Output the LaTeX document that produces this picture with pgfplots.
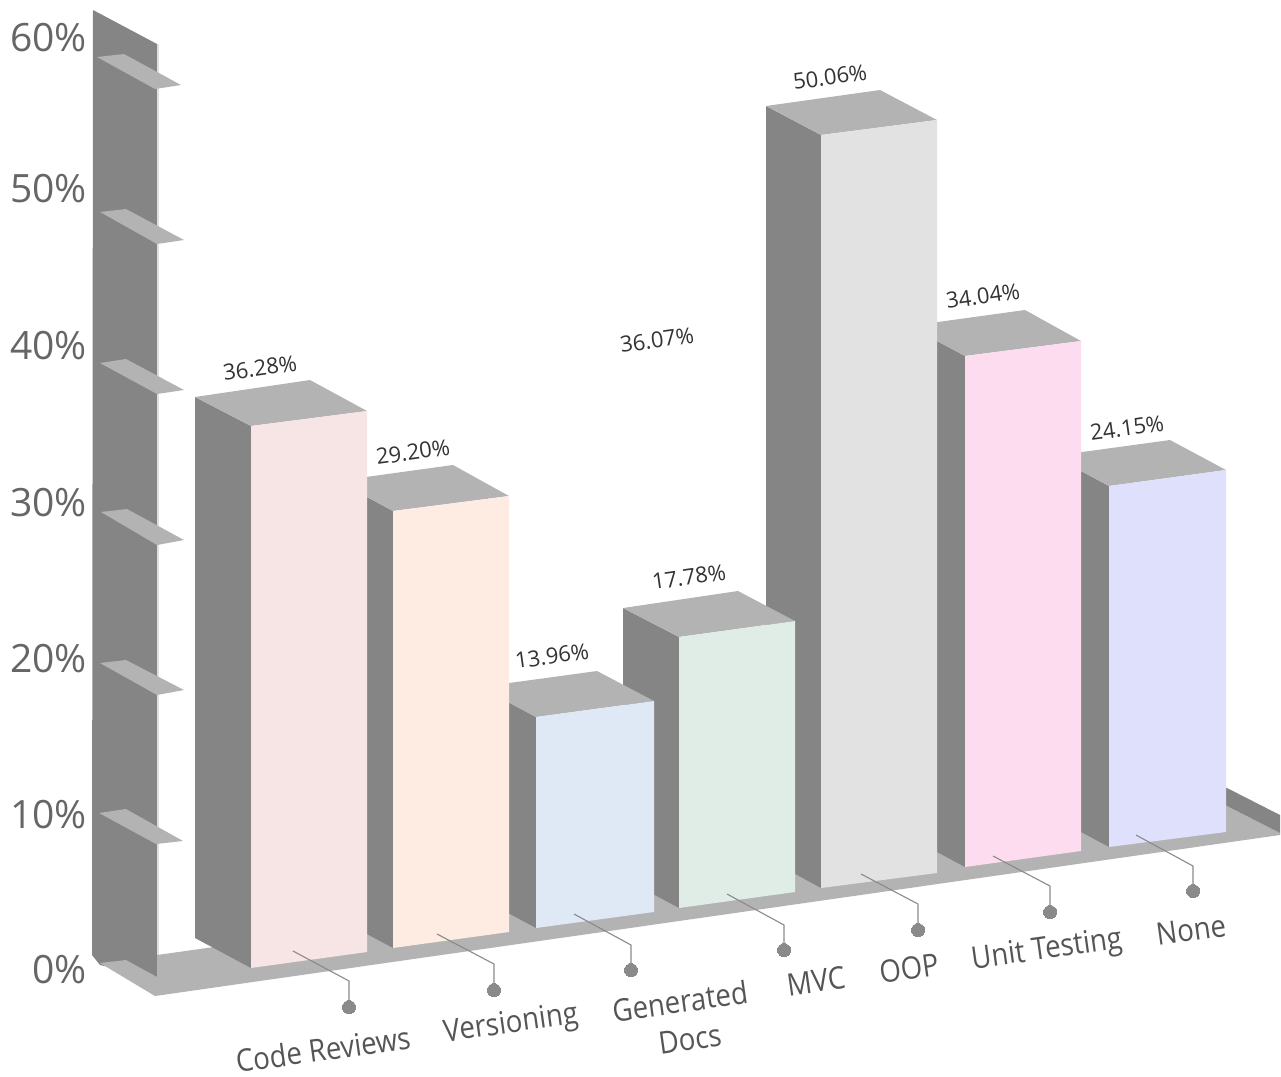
\documentclass[border=0pt]{standalone}
\usepackage{fontspec}
\setmainfont{Open Sans}
\newfontfamily\catfont{Open Sans}[FakeStretch=0.89]
\usepackage{pgfplots}
\pgfplotsset{compat=1.18}
\definecolor{side}{HTML}{858585}
\definecolor{topc}{HTML}{B3B3B3}
\definecolor{lead}{HTML}{8A8A8A}
\definecolor{ticktext}{HTML}{666666}
\definecolor{valtext}{HTML}{333333}
\definecolor{cattext}{HTML}{555555}
\pgfplotsset{
  sidef/.style={fill=side, draw=none, forget plot},
  topf/.style={fill=topc, draw=none, forget plot},
  leader/.style={draw=lead, line width=1.1pt, forget plot},
  dot/.style={only marks, mark=*, mark size=6.5pt, color=lead, mark options={fill=lead, draw=lead, line width=0pt}, forget plot},
}
\tikzset{
  val/.style={font=\fontsize{22}{24}\selectfont, text=valtext, rotate=8, inner sep=0pt},
  cat/.style={font=\catfont\fontsize{31}{34}\selectfont, text=cattext, rotate=8, inner sep=0pt},
  tk/.style={font=\fontsize{39}{42}\selectfont, text=ticktext, anchor=east, inner sep=0pt},
}
\begin{document}
\begin{tikzpicture}
  \begin{axis}[
      scale only axis,
      width=1281pt, height=1076pt,
      xmin=0, xmax=1281, ymin=0, ymax=1076,
      y dir=reverse,
      hide axis,
      clip=false,
    ]
    \path (axis cs:0,0) rectangle (axis cs:1281,1076);

    % y axis wall
    \addplot[sidef] coordinates {(93,10) (157,44) (157,977) (100,965) (92,955)} -- cycle;
    \addplot[draw=gray!25, line width=1.5pt, forget plot] coordinates {(158,44) (158,975)};

    % floor and right end wall
    \addplot[topf] coordinates {(100,963) (126,960) (157,977) (157,955) (1225,805) (1280,833) (1280,835) (155,996)} -- cycle;
    \addplot[sidef] coordinates {(1225,787) (1280,815) (1280,833) (1225,805)} -- cycle;

    % tick shelves
    \addplot[topf] coordinates {(97,57) (124,54) (181,85) (155,89)} -- cycle;
    \addplot[topf] coordinates {(100,212) (126,209) (184,240) (157,244)} -- cycle;
    \addplot[topf] coordinates {(100,363) (126,359) (184,390) (157,394)} -- cycle;
    \addplot[topf] coordinates {(101,512) (127,509) (184,540) (157,545)} -- cycle;
    \addplot[topf] coordinates {(100,663) (126,660) (184,690) (157,695)} -- cycle;
    \addplot[topf] coordinates {(99,813) (126,809) (183,841) (156,844)} -- cycle;

    % bars, right to left so the nearer ones cover the others
    % None
    \addplot[sidef] coordinates {(1053,456) (1109,486) (1109,847) (1053,817)} -- cycle;
    \addplot[topf] coordinates {(1053,456) (1170,440) (1226,470) (1109,486)} -- cycle;
    \addplot[fill={rgb,255:red,222;green,224;blue,252}, draw=none, forget plot] coordinates {(1109,486) (1226,470) (1226,832) (1109,847)} -- cycle;
    % Unit Testing
    \addplot[sidef] coordinates {(909,326) (965,356) (965,867) (909,837)} -- cycle;
    \addplot[topf] coordinates {(909,326) (1025,310) (1081,341) (965,356)} -- cycle;
    \addplot[fill={rgb,255:red,253;green,220;blue,240}, draw=none, forget plot] coordinates {(965,356) (1081,341) (1081,851) (965,867)} -- cycle;
    % OOP
    \addplot[sidef] coordinates {(766,106) (821,135) (821,888) (766,858)} -- cycle;
    \addplot[topf] coordinates {(766,106) (880,90) (937,120) (821,135)} -- cycle;
    \addplot[fill={rgb,255:red,226;green,226;blue,226}, draw=none, forget plot] coordinates {(821,135) (937,120) (937,873) (821,888)} -- cycle;
    % MVC
    \addplot[sidef] coordinates {(623,608) (679,637) (679,908) (623,878)} -- cycle;
    \addplot[topf] coordinates {(623,608) (738,591) (795,621) (679,637)} -- cycle;
    \addplot[fill={rgb,255:red,223;green,237;blue,230}, draw=none, forget plot] coordinates {(679,637) (795,621) (795,892) (679,908)} -- cycle;
    % Generated Docs
    \addplot[sidef] coordinates {(480,687) (536,717) (536,928) (480,898)} -- cycle;
    \addplot[topf] coordinates {(480,687) (597,671) (654,701) (536,717)} -- cycle;
    \addplot[fill={rgb,255:red,223;green,232;blue,245}, draw=none, forget plot] coordinates {(536,717) (654,701) (654,912) (536,928)} -- cycle;
    % Versioning
    \addplot[sidef] coordinates {(337,481) (393,511) (393,948) (337,918)} -- cycle;
    \addplot[topf] coordinates {(337,481) (453,465) (509,496) (393,511)} -- cycle;
    \addplot[fill={rgb,255:red,254;green,235;blue,226}, draw=none, forget plot] coordinates {(393,511) (509,496) (509,932) (393,948)} -- cycle;
    % Code Reviews
    \addplot[sidef] coordinates {(195,397) (251,426) (251,968) (195,938)} -- cycle;
    \addplot[topf] coordinates {(195,397) (310,380) (367,411) (251,426)} -- cycle;
    \addplot[fill={rgb,255:red,247;green,228;blue,228}, draw=none, forget plot] coordinates {(251,426) (367,411) (367,952) (251,968)} -- cycle;

    % leaders from the bars to the category dots
    \addplot[leader] coordinates {(293,951) (349,981) (349,1007)};
    \addplot[leader] coordinates {(437,934) (494,964) (494,990)};
    \addplot[leader] coordinates {(574,914) (631,945) (631,970)};
    \addplot[leader] coordinates {(727,894) (784,925) (784,950)};
    \addplot[leader] coordinates {(861,874) (918,904) (918,930)};
    \addplot[leader] coordinates {(993,856) (1050,886) (1050,912)};
    \addplot[leader] coordinates {(1136,835) (1193,866) (1193,891)};
    \addplot[dot] coordinates {(349,1007) (494,990) (631,970) (784,950) (918,930) (1050,912) (1193,891)};

    % tick labels
    \node[tk] at (axis cs:87,38)  {60\%};
    \node[tk] at (axis cs:87,189) {50\%};
    \node[tk] at (axis cs:87,346) {40\%};
    \node[tk] at (axis cs:87,503) {30\%};
    \node[tk] at (axis cs:87,659) {20\%};
    \node[tk] at (axis cs:87,815) {10\%};
    \node[tk] at (axis cs:87,970) {0\%};

    % value labels
    \node[val] at (axis cs:260,368)  {36.28\%};
    \node[val] at (axis cs:413,452)  {29.20\%};
    \node[val] at (axis cs:552,656)  {13.96\%};
    \node[val] at (axis cs:689,577)  {17.78\%};
    \node[val] at (axis cs:657,340)  {36.07\%};
    \node[val] at (axis cs:830,77)   {50.06\%};
    \node[val] at (axis cs:983,296)  {34.04\%};
    \node[val] at (axis cs:1127,428) {24.15\%};

    % category labels
    \node[cat] at (axis cs:323,1049) {Code Reviews};
    \node[cat] at (axis cs:511,1025) {Versioning};
    \node[cat] at (axis cs:680,1001) {Generated};
    \node[cat] at (axis cs:690,1039) {Docs};
    \node[cat] at (axis cs:816,981)  {MVC};
    \node[cat] at (axis cs:909,968)  {OOP};
    \node[cat] at (axis cs:1047,951) {Unit Testing};
    \node[cat] at (axis cs:1191,930) {None};
  \end{axis}
\end{tikzpicture}
\end{document}
